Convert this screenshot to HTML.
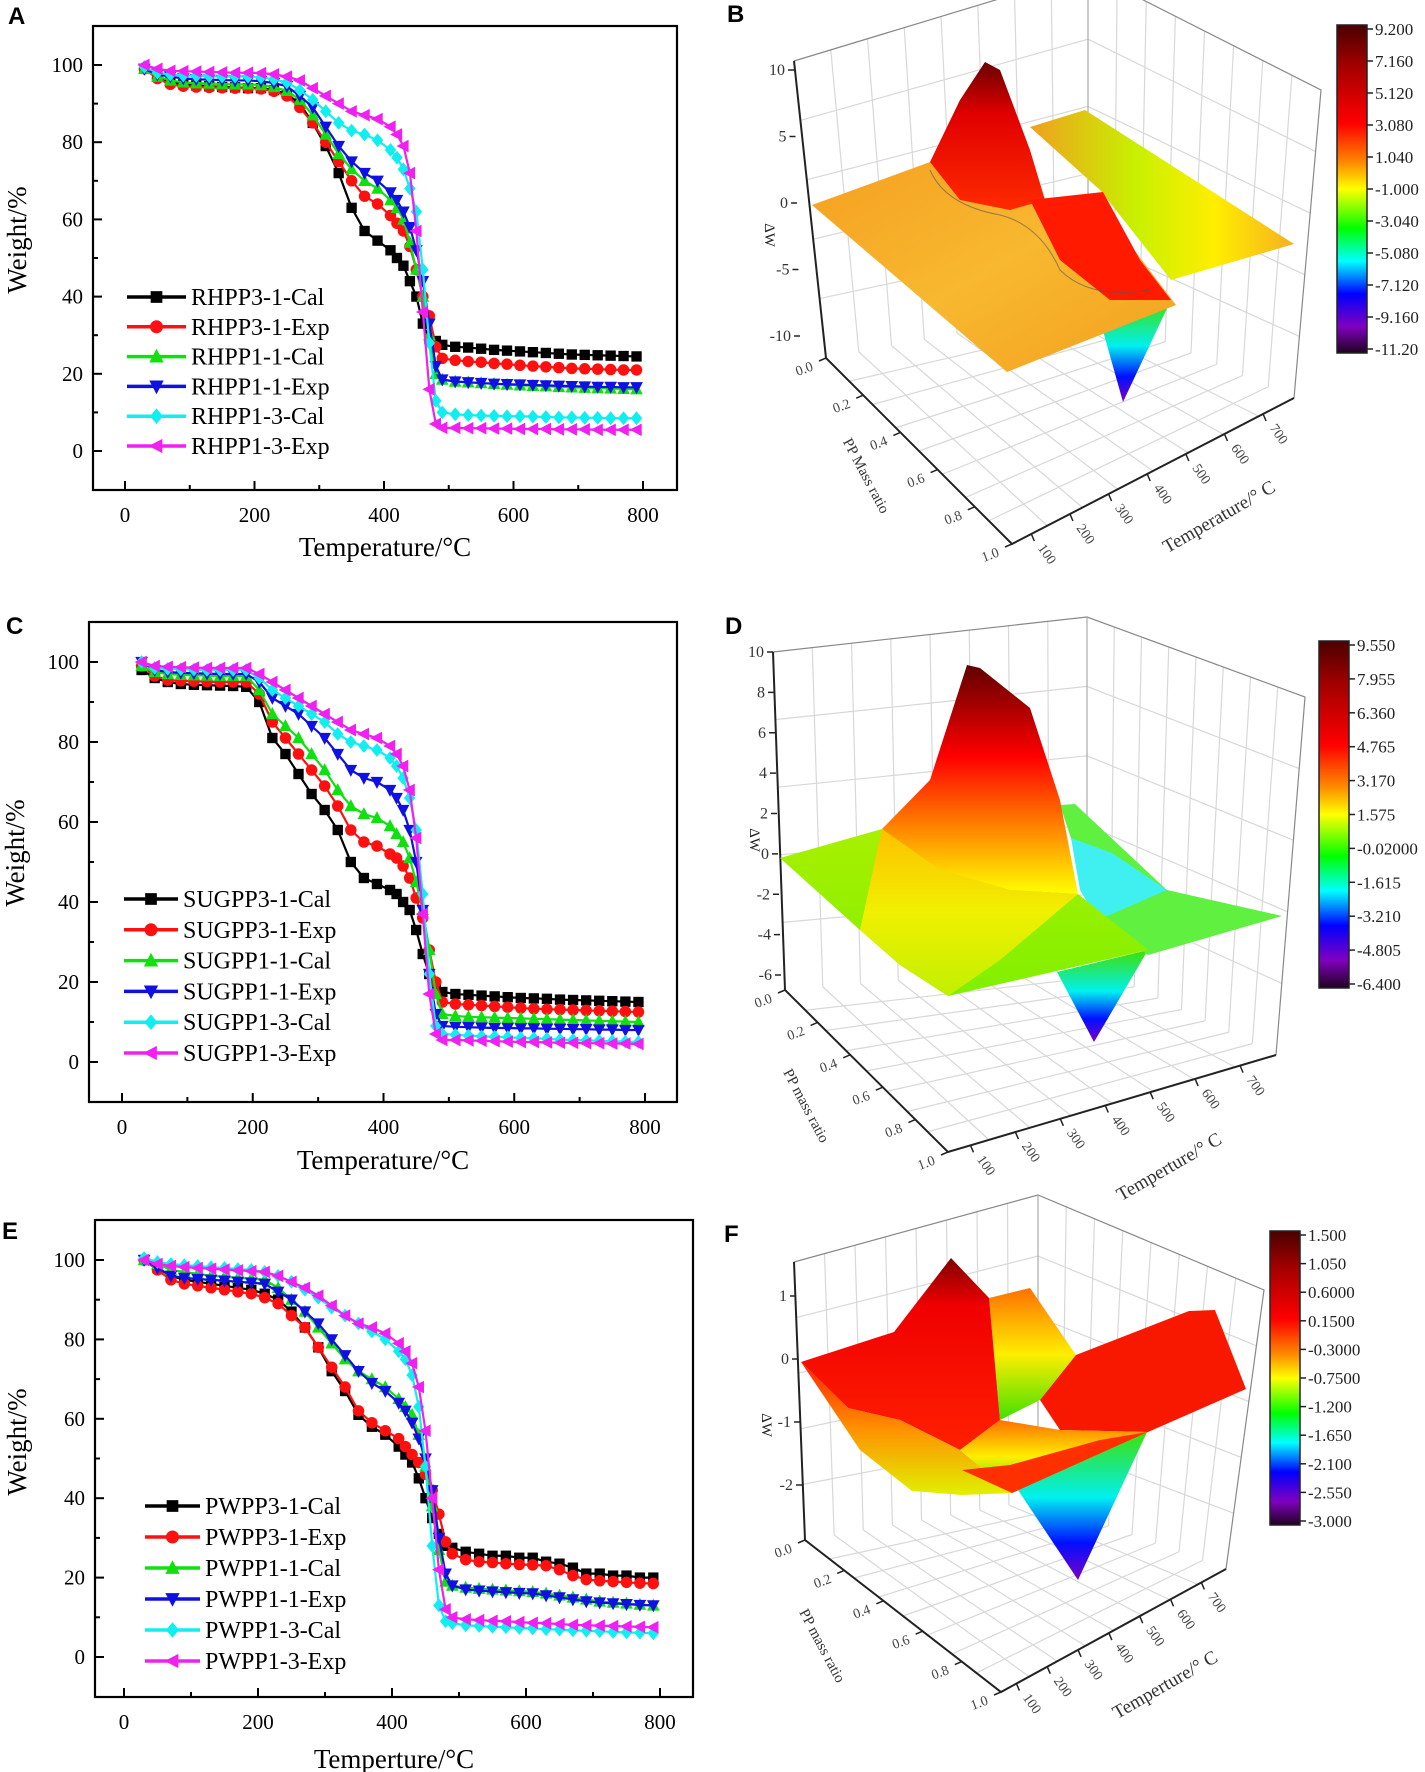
<!DOCTYPE html>
<html><head><meta charset="utf-8"><style>
html,body{margin:0;padding:0;background:#fff;}
svg{display:block;}
text{font-family:"Liberation Serif",serif;}
.lbl{font-family:"Liberation Sans",sans-serif;font-weight:bold;font-size:24px;}
</style></head><body>
<svg id="fig" xmlns="http://www.w3.org/2000/svg" width="1425" height="1772" viewBox="0 0 1425 1772">
<defs>
<linearGradient id="cbar" x1="0" y1="0" x2="0" y2="1">
<stop offset="0" stop-color="#4a0000"/><stop offset="0.12" stop-color="#a00000"/><stop offset="0.3" stop-color="#ff0000"/><stop offset="0.42" stop-color="#ff8a00"/><stop offset="0.5" stop-color="#ffff00"/><stop offset="0.62" stop-color="#00ff00"/><stop offset="0.72" stop-color="#00ffff"/><stop offset="0.82" stop-color="#0000ff"/><stop offset="0.92" stop-color="#8000c0"/><stop offset="1" stop-color="#200020"/>
</linearGradient>
<linearGradient id="gPeak" x1="0" y1="0" x2="0" y2="1"><stop offset="0" stop-color="#6a0000"/><stop offset="0.35" stop-color="#e00000"/><stop offset="1" stop-color="#ff2a00"/></linearGradient>
<linearGradient id="gOrange" x1="0" y1="0" x2="1" y2="1"><stop offset="0" stop-color="#f5a020"/><stop offset="0.5" stop-color="#f8b830"/><stop offset="1" stop-color="#f3a01e"/></linearGradient>
<linearGradient id="gRib" x1="0" y1="0" x2="1" y2="0"><stop offset="0" stop-color="#f0a020"/><stop offset="0.4" stop-color="#c8f000"/><stop offset="0.7" stop-color="#ffee00"/><stop offset="1" stop-color="#f5b020"/></linearGradient>
<linearGradient id="gTri" x1="0" y1="0" x2="0" y2="1"><stop offset="0" stop-color="#40e000"/><stop offset="0.45" stop-color="#00f0f0"/><stop offset="0.75" stop-color="#0010ff"/><stop offset="1" stop-color="#7a00c8"/></linearGradient>
<linearGradient id="gDPeak" x1="0" y1="0" x2="0" y2="1"><stop offset="0" stop-color="#600000"/><stop offset="0.4" stop-color="#ff0000"/><stop offset="0.7" stop-color="#ff8000"/><stop offset="1" stop-color="#ffff00"/></linearGradient>
<linearGradient id="gDPlane" x1="0" y1="0" x2="0" y2="1"><stop offset="0" stop-color="#a8f000"/><stop offset="1" stop-color="#80f000"/></linearGradient>
<linearGradient id="gDYel" x1="0" y1="0" x2="0" y2="1"><stop offset="0" stop-color="#ffc000"/><stop offset="0.5" stop-color="#f0f000"/><stop offset="1" stop-color="#c0f000"/></linearGradient>
<linearGradient id="gFRed" x1="0" y1="0" x2="0" y2="1"><stop offset="0" stop-color="#800000"/><stop offset="0.25" stop-color="#f00000"/><stop offset="1" stop-color="#ff2000"/></linearGradient>
<linearGradient id="gFValley" x1="0" y1="0" x2="0" y2="1"><stop offset="0" stop-color="#ff2000"/><stop offset="0.5" stop-color="#ff9000"/><stop offset="1" stop-color="#e0f000"/></linearGradient>
<linearGradient id="gFMid" x1="0" y1="0" x2="0" y2="1"><stop offset="0" stop-color="#ff7000"/><stop offset="0.5" stop-color="#ffee00"/><stop offset="1" stop-color="#40e000"/></linearGradient>
</defs>
</svg>
<script>
// ---------- shared temperature categories (°C) ----------
const T=[30,50,70,90,110,130,150,170,190,210,230,250,270,290,310,330,350,370,390,410,420,430,440,450,460,470,480,490,510,530,550,570,590,610,630,650,670,690,710,730,750,770,790];
const xTicks=[0,200,400,600,800];
const yTicks=[0,20,40,60,80,100];
// ---------- Panel A ----------
const rhpp31Cal=[99,97,95.5,95,94.7,94.5,94.3,94.2,94,94,93.5,92.5,90,85,79,72,63,57,54.5,52,50,48,44,40,33,29,28.5,27.5,27,26.8,26.5,26.2,26,25.8,25.6,25.4,25.2,25,24.9,24.8,24.7,24.6,24.5];
const rhpp31Exp=[99,96.5,95,94.5,94.3,94.2,94.1,94,94,93.8,93.2,92,89,85,80,75,70,66,64,61,59,57,53,47,40,35,27,24,23.5,23.2,23,22.7,22.5,22.2,22,21.8,21.6,21.4,21.3,21.2,21.1,21,21];
const rhpp11Cal=[99,97,96,95.5,95.3,95.2,95.1,95,95,94.8,94.3,93.3,91,87,82,77,73,70,68,65,63,60,54,47,40,30,20,18.5,18,17.8,17.6,17.4,17.2,17,16.9,16.8,16.6,16.5,16.4,16.3,16.2,16.1,16];
const rhpp11Exp=[99,97.5,97,96.5,96.3,96.2,96.1,96,96,95.8,95.3,94.5,92,89,84,79,75,72,70,67,65,62,58,52,44,33,22,18.5,18,17.8,17.6,17.4,17.3,17.2,17.1,17,16.9,16.8,16.7,16.6,16.6,16.5,16.5];
const rhpp13Cal=[99.5,98,97.5,97.3,97.2,97.1,97,97,97,96.8,96.3,95.5,93.5,91,88,85,83,82,80.5,78,76,73,68,62,47,28,13,10,9.5,9.3,9.2,9.1,9,9,8.9,8.8,8.7,8.7,8.6,8.6,8.5,8.5,8.5];
const rhpp13Exp=[100,99,98.5,98.4,98.3,98.2,98.1,98,98,97.9,97.6,97,96,94,92,90,88,87,86,84,82,79,72,57,36,16,7,6,6,5.9,5.9,5.8,5.8,5.7,5.7,5.7,5.6,5.6,5.6,5.5,5.5,5.5,5.5];
// ---------- Panel C ----------
const sug31Cal=[98,96,95,94.5,94.3,94.2,94.1,94,93.8,90,81,77,72,67,63,58,50,46,44.5,43,42,40,38,33,27,22,19,17.5,17,16.8,16.6,16.4,16.2,16,15.9,15.8,15.6,15.5,15.4,15.3,15.2,15.1,15];
const sug31Exp=[99,96.5,95.5,95.3,95.2,95.1,95,95,95,92,85,81,77,73,69,64,58,55,54,52,51,49,46,41,36,28,20,15,14.5,14.3,14.1,13.9,13.7,13.5,13.3,13.2,13.1,13,12.9,12.8,12.7,12.6,12.5];
const sug11Cal=[99,97.5,97,96.8,96.7,96.6,96.5,96.5,96.5,93,87,84,81,77,73,68,64,62,61,59,57,55,51,45,38,28,17,12,11.5,11.3,11.2,11.1,11,10.9,10.8,10.7,10.6,10.5,10.4,10.3,10.2,10.1,10];
const sug11Exp=[100,98,97.5,97.3,97.2,97.1,97,97,97,95,91,89,87,84,81,77,73,71,70,68,66,63,58,50,38,22,12,9,8.8,8.7,8.6,8.5,8.5,8.4,8.4,8.3,8.3,8.2,8.2,8.1,8.1,8,8];
const sug13Cal=[100,98.5,98.3,98.2,98.1,98,98,98,98,96,93,91,89,87,85,82,80,79,78,76,74,71,66,58,42,22,9,7,6.8,6.6,6.4,6.3,6.2,6,5.9,5.8,5.6,5.5,5.4,5.3,5.2,5.1,5];
const sug13Exp=[100,99,98.8,98.7,98.6,98.5,98.5,98.5,98.5,97,95,93,91,89,87,85,83,82,81,79,77,74,68,56,37,17,7,5.5,5.5,5.4,5.3,5.2,5.1,5,5,4.9,4.8,4.8,4.7,4.7,4.6,4.6,4.5];
// ---------- Panel E ----------
const pw31Cal=[100,98,96,95,94.5,94,93.5,93,92.5,91.5,90,87,83,78,72,67,61,58,56,53,51,49,45,40,35,31,28,27.5,26.5,26,25.5,25.5,25,25,24,23.5,22.5,21,21,20.5,20.5,20,20];
const pw31Exp=[100,97.5,95,94,93.5,93,92.5,92,91.5,90.5,89,86,83,78,73,68,62,59,57,55,53,51,49,46,42,36,29,26,24.5,24,23.8,23.5,23.3,23.2,23,22,20.5,19.5,19.2,19,18.8,18.6,18.5];
const pw11Cal=[100,99,97.5,97,96.5,96,95.8,95.5,95.3,95,93,90,87,83,79,75,72,70,68,65,63,61,56,48,38,27,19,18,17.5,17.2,17,16.8,16.6,16.4,16,15.5,15,14.5,14,13.7,13.5,13.2,13];
const pw11Exp=[100,98,96,95.5,95.2,95,94.8,94.5,94.3,94,92,90,87,84,80,76,72,69,67,64,62,59,55,50,42,30,21,18,17,16.7,16.5,16.3,16.1,16,15.5,15,14.5,14,13.7,13.5,13.3,13.1,13];
const pw13Cal=[100.5,99.5,99,98.7,98.5,98.2,98,97.7,97.5,97,96,94.5,92.5,90.5,88,86,84,82,80,77,75,71,63,48,28,13,9,8.5,8,7.8,7.6,7.5,7.3,7.2,7,6.9,6.7,6.6,6.5,6.3,6.2,6.1,6];
const pw13Exp=[100,99,98.5,98.2,98,97.8,97.6,97.4,97.2,97,96,94.5,93,91,88.5,86,84,83,81.5,79,77,74,68,57,40,22,12,10,9.5,9.3,9.1,9,8.8,8.6,8.5,8.3,8.1,8,7.9,7.8,7.7,7.6,7.5];
// ---------- colour-bar tick labels ----------
const cbB=["9.200","7.160","5.120","3.080","1.040","-1.000","-3.040","-5.080","-7.120","-9.160","-11.20"];
const cbD=["9.550","7.955","6.360","4.765","3.170","1.575","-0.02000","-1.615","-3.210","-4.805","-6.400"];
const cbF=["1.500","1.050","0.6000","0.1500","-0.3000","-0.7500","-1.200","-1.650","-2.100","-2.550","-3.000"];

const NS="http://www.w3.org/2000/svg";
const svg=document.getElementById('fig');
function el(tag,attrs,parent,txt){const e=document.createElementNS(NS,tag);for(const k in attrs)e.setAttribute(k,attrs[k]);if(txt!==undefined)e.textContent=txt;(parent||svg).appendChild(e);return e;}

const COLORS=["#000000","#ff1010","#10e010","#1010e0","#10eef0","#f020f0"];
const SHAPES=["square","circle","up","down","diamond","left"];
function marker(g,shape,x,y,c,s){
  let m;
  if(shape==="square")m=el('rect',{x:x-s*0.45,y:y-s*0.45,width:s*0.9,height:s*0.9,fill:c},g);
  else if(shape==="circle")m=el('circle',{cx:x,cy:y,r:s*0.5,fill:c},g);
  else{
    let p;
    if(shape==="up")p=[[x,y-s*0.6],[x-s*0.55,y+s*0.45],[x+s*0.55,y+s*0.45]];
    else if(shape==="down")p=[[x,y+s*0.6],[x-s*0.55,y-s*0.45],[x+s*0.55,y-s*0.45]];
    else if(shape==="diamond")p=[[x,y-s*0.6],[x+s*0.5,y],[x,y+s*0.6],[x-s*0.5,y]];
    else p=[[x-s*0.6,y],[x+s*0.45,y-s*0.55],[x+s*0.45,y+s*0.55]];
    m=el('polygon',{points:p.map(q=>q.join(',')).join(' '),fill:c},g);
  }
  return m;
}

function linePanel(cfg){
  const g=el('g',{});
  
  
  const X=v=>cfg.x0+(v/800)*(cfg.x800-cfg.x0);
  const Y=v=>cfg.y0-(v/100)*(cfg.y0-cfg.y100);
  const L=el('text',{x:cfg.lx,y:cfg.ly,class:'lbl'},g,cfg.letter);
  
  
  const fr=el('rect',{x:cfg.fx0,y:cfg.fy0,width:cfg.fx1-cfg.fx0,height:cfg.fy1-cfg.fy0,fill:'none',stroke:'#000','stroke-width':2.2},g);
  
  
  for(let v=0;v<=800;v+=100){
    const major=v%200===0;
    el('line',{x1:X(v),x2:X(v),y1:cfg.fy1,y2:cfg.fy1-(major?9:5),stroke:'#000','stroke-width':2},g);
  }
  xTicks.forEach(v=>{
    const t=el('text',{x:X(v),y:cfg.fy1+32,'font-size':21,'text-anchor':'middle'},g,String(v));
    
    
  });
  for(let v=0;v<=100;v+=10){
    const major=v%20===0;
    el('line',{x1:cfg.fx0,x2:cfg.fx0+(major?9:5),y1:Y(v),y2:Y(v),stroke:'#000','stroke-width':2},g);
  }
  yTicks.forEach(v=>{
    const t=el('text',{x:cfg.fx0-10,y:Y(v)+7,'font-size':21,'text-anchor':'end'},g,String(v));
    
    
  });
  const xt=el('text',{x:(cfg.fx0+cfg.fx1)/2,y:cfg.xty,'font-size':27,'text-anchor':'middle'},g,cfg.xtitle);
  
  
  const yt=el('text',{x:0,y:0,'font-size':27,'text-anchor':'middle',transform:`translate(${cfg.ytx},${cfg.yty}) rotate(-90)`},g,'Weight/%');
  
  
  cfg.series.forEach((arr,i)=>{
    const sg=el('g',{},g);
    
    
    const pts=T.map((t,k)=>X(t)+','+Y(arr[k])).join(' ');
    const pl=el('polyline',{points:pts,fill:'none',stroke:COLORS[i],'stroke-width':2.2},sg);
    
    
    T.forEach((t,k)=>{
      const m=marker(sg,SHAPES[i],X(t),Y(arr[k]),COLORS[i],11.5);
      
      
    });
  });
  const lg=el('g',{},g);
  
  
  cfg.labels.forEach((lab,i)=>{
    const y=cfg.legY+i*cfg.legStep;
    const eg=el('g',{},lg);
    
    
    el('line',{x1:cfg.legX0,x2:cfg.legX1,y1:y,y2:y,stroke:COLORS[i],'stroke-width':3.5},eg);
    marker(eg,SHAPES[i],(cfg.legX0+cfg.legX1)/2,y,COLORS[i],13);
    el('text',{x:cfg.legX1+5,y:y+8,'font-size':24},eg,lab);
  });
}

linePanel({name:'chart-a',letter:'A',lx:8,ly:24,fx0:93,fx1:677,fy0:26,fy1:490,x0:125,x800:643,y0:451,y100:65,
  xtitle:'Temperature/°C',xty:556,ytx:26,yty:240,
  series:[rhpp31Cal,rhpp31Exp,rhpp11Cal,rhpp11Exp,rhpp13Cal,rhpp13Exp],
  labels:['RHPP3-1-Cal','RHPP3-1-Exp','RHPP1-1-Cal','RHPP1-1-Exp','RHPP1-3-Cal','RHPP1-3-Exp'],
  legY:297,legStep:29.8,legX0:127,legX1:186});
linePanel({name:'chart-c',letter:'C',lx:6,ly:634,fx0:89,fx1:677,fy0:622,fy1:1102,x0:122,x800:645,y0:1062,y100:662,
  xtitle:'Temperature/°C',xty:1169,ytx:24,yty:853,
  series:[sug31Cal,sug31Exp,sug11Cal,sug11Exp,sug13Cal,sug13Exp],
  labels:['SUGPP3-1-Cal','SUGPP3-1-Exp','SUGPP1-1-Cal','SUGPP1-1-Exp','SUGPP1-3-Cal','SUGPP1-3-Exp'],
  legY:899,legStep:30.8,legX0:124,legX1:178});
linePanel({name:'chart-e',letter:'E',lx:2,ly:1239,fx0:95,fx1:693,fy0:1220,fy1:1697,x0:124,x800:660,y0:1657,y100:1260,
  xtitle:'Temperture/°C',xty:1768,ytx:26,yty:1442,
  series:[pw31Cal,pw31Exp,pw11Cal,pw11Exp,pw13Cal,pw13Exp],
  labels:['PWPP3-1-Cal','PWPP3-1-Exp','PWPP1-1-Cal','PWPP1-1-Exp','PWPP1-3-Cal','PWPP1-3-Exp'],
  legY:1506,legStep:31,legX0:145,legX1:200});

// ---------- 3D panels (illustrative surfaces) ----------
function lerp(a,b,t){return [a[0]+(b[0]-a[0])*t,a[1]+(b[1]-a[1])*t];}
function box3d(g,b){
  const gs={stroke:'#d8d8d8','stroke-width':1.2};
  for(let i=1;i<8;i++){const t=i/8;
    const p=lerp(b.L,b.Bk,t),q=lerp(b.Lt,b.Bkt,t);el('line',{x1:p[0],y1:p[1],x2:q[0],y2:q[1],...gs},g);
    const r=lerp(b.Bk,b.R,t),s=lerp(b.Bkt,b.Rt,t);el('line',{x1:r[0],y1:r[1],x2:s[0],y2:s[1],...gs},g);
    const a1=lerp(b.L,b.F,t),a2=lerp(b.Bk,b.R,t);el('line',{x1:a1[0],y1:a1[1],x2:a2[0],y2:a2[1],...gs},g);
    const c1=lerp(b.F,b.R,t),c2=lerp(b.L,b.Bk,t);el('line',{x1:c1[0],y1:c1[1],x2:c2[0],y2:c2[1],...gs},g);
  }
  for(let i=1;i<5;i++){const t=i/5;
    const p=lerp(b.L,b.Lt,t),q=lerp(b.Bk,b.Bkt,t),r=lerp(b.R,b.Rt,t);
    el('polyline',{points:[p,q,r].map(z=>z.join(',')).join(' '),fill:'none',...gs},g);}
  el('polyline',{points:[b.Lt,b.Bkt,b.Rt,b.R].map(z=>z.join(',')).join(' '),fill:'none',stroke:'#888','stroke-width':1.2},g);
  el('line',{x1:b.Bk[0],y1:b.Bk[1],x2:b.Bkt[0],y2:b.Bkt[1],stroke:'#aaa','stroke-width':1.2},g);
  el('polyline',{points:[b.Lt,b.L,b.F,b.R].map(z=>z.join(',')).join(' '),fill:'none',stroke:'#222','stroke-width':2},g);
  const ts={'font-size':14,fill:'#444'};
  ['0.0','0.2','0.4','0.6','0.8','1.0'].forEach((s,i)=>{const p=lerp(b.L,b.F,i/5);
    el('line',{x1:p[0],y1:p[1],x2:p[0]-7,y2:p[1]+3,stroke:'#222','stroke-width':1.5},g);
    el('text',{x:p[0]-12,y:p[1]+12,'text-anchor':'end',...ts,transform:`rotate(-20 ${p[0]-12} ${p[1]+12})`},g,s);});
  ['100','200','300','400','500','600','700'].forEach((s,i)=>{const p=lerp(b.F,b.R,(i+0.5)/7.3);
    el('line',{x1:p[0],y1:p[1],x2:p[0]+3,y2:p[1]+7,stroke:'#222','stroke-width':1.5},g);
    el('text',{x:p[0]+6,y:p[1]+14,...ts,transform:`rotate(55 ${p[0]+6} ${p[1]+14})`},g,s);});
  b.zt.forEach((s,i)=>{const p=lerp(b.Zlo,b.Zhi,i/(b.zt.length-1));
    el('line',{x1:p[0],y1:p[1],x2:p[0]-6,y2:p[1],stroke:'#222','stroke-width':1.5},g);
    el('text',{x:p[0]-9,y:p[1]+5,'text-anchor':'end','font-size':16,fill:'#333'},g,s);});
  el('text',{x:0,y:0,'font-size':15,fill:'#333','text-anchor':'middle',transform:`translate(${b.ppT[0]},${b.ppT[1]}) rotate(62)`},g,b.ppLabel);
  el('text',{x:0,y:0,'font-size':19,fill:'#333','text-anchor':'middle',transform:`translate(${b.tT[0]},${b.tT[1]}) rotate(-30)`},g,b.tLabel);
  el('text',{x:0,y:0,'font-size':15,fill:'#222','text-anchor':'middle',transform:`translate(${b.zT[0]},${b.zT[1]}) rotate(90)`},g,'ΔW');
}
function poly(g,pts,fill,name){const p=el('polygon',{points:pts.map(z=>z.join(',')).join(' '),fill:fill},g);return p;}
function cbar(g,x,y0,y1,labels,name){
  const cg=el('g',{},g);
  
  
  el('rect',{x:x,y:y0,width:30,height:y1-y0,fill:'url(#cbar)',stroke:'#222','stroke-width':1.5},cg);
  labels.forEach((s,i)=>{const y=y0+4+(y1-y0-8)*i/(labels.length-1);
    el('line',{x1:x+30,x2:x+36,y1:y,y2:y,stroke:'#222','stroke-width':1.5},cg);
    el('text',{x:x+38,y:y+6,'font-size':17,fill:'#222'},cg,s);});
}
// Panel B
(function(){
  const g=el('g',{});
  const L=el('text',{x:727,y:22,class:'lbl'},g,'B');
  box3d(g,{L:[826,358],Lt:[794,61],Bk:[1088,308],Bkt:[1088,-28],R:[1294,398],Rt:[1321,90],F:[1012,544],
    Zlo:[800,336],Zhi:[794,70],zt:['-10','-5','0','5','10'],ppLabel:'PP Mass ratio',ppT:[862,478],tLabel:'Temperature/° C',tT:[1222,522],zT:[765,235]});
  poly(g,[[1030,127],[1085,110],[1294,244],[1171,280],[1100,190]],'url(#gRib)','surface-ribbon');
  poly(g,[[1103,331],[1171,300],[1123,402]],'url(#gTri)','surface-trough');
  poly(g,[[812,205],[930,162],[1020,200],[1100,205],[1176,305],[1007,372]],'url(#gOrange)','surface-plane');
  poly(g,[[930,162],[960,100],[985,62],[1000,70],[1030,150],[1045,200],[1010,210],[960,200]],'url(#gPeak)','surface-peak');
  poly(g,[[1030,200],[1103,192],[1140,260],[1171,300],[1110,300],[1060,260]],'#ff1a00','surface-fold');
  el('path',{d:'M930,170 Q945,205 1000,215 Q1040,225 1060,270 Q1090,300 1150,290',fill:'none',stroke:'#555','stroke-width':1,opacity:0.6},g);
  cbar(g,1337,25,353,cbB,'colorbar-b');
})();
// Panel D
(function(){
  const g=el('g',{});
  const L=el('text',{x:725,y:634,class:'lbl'},g,'D');
  box3d(g,{L:[785,990],Lt:[773,652],Bk:[1087,964],Bkt:[1087,617],R:[1276,1055],Rt:[1305,697],F:[948,1152],
    Zlo:[781,975],Zhi:[773,652],zt:['-6','-4','-2','0','2','4','6','8','10'],ppLabel:'PP mass ratio',ppT:[802,1108],tLabel:'Temperture/° C',tT:[1172,1172],zT:[750,840]});
  poly(g,[[1057,972],[1148,950],[1094,1042]],'url(#gTri)','surface-trough');
  poly(g,[[1060,805],[1075,804],[1167,890],[1282,916],[1148,955],[1098,920]],'#60f040','surface-back-plane');
  poly(g,[[1071,838],[1112,853],[1167,890],[1098,920],[1080,890]],'#40f0f0','surface-cyan');
  poly(g,[[780,858],[882,829],[1020,880],[1078,894],[1148,950],[948,996],[900,965],[860,930]],'url(#gDPlane)','surface-plane');
  poly(g,[[882,829],[930,780],[967,665],[980,668],[1030,708],[1060,800],[1078,894],[1010,890],[940,870]],'url(#gDPeak)','surface-peak');
  poly(g,[[882,829],[940,870],[1010,890],[1078,894],[1000,960],[948,996],[900,965],[860,930]],'url(#gDYel)','surface-slope');
  cbar(g,1319,641,988,cbD,'colorbar-d');
})();
// Panel F
(function(){
  const g=el('g',{});
  const L=el('text',{x:724,y:1242,class:'lbl'},g,'F');
  box3d(g,{L:[805,1540],Lt:[794,1262],Bk:[1038,1500],Bkt:[1038,1195],R:[1226,1569],Rt:[1264,1290],F:[1001,1692],
    Zlo:[802,1485],Zhi:[796,1296],zt:['-2','-1','0','1'],ppLabel:'PP mass ratio',ppT:[818,1648],tLabel:'Temperture/° C',tT:[1168,1690],zT:[762,1425]});
  poly(g,[[1014,1484],[1148,1430],[1078,1580]],'url(#gTri)','surface-trough');
  poly(g,[[989,1298],[1030,1288],[1076,1355],[1040,1400],[1000,1420]],'url(#gFMid)','surface-back-fold');
  poly(g,[[1076,1355],[1189,1311],[1215,1310],[1246,1389],[1148,1432],[1060,1430],[1040,1400]],'#f81800','surface-right-plane');
  poly(g,[[801,1362],[894,1332],[951,1258],[989,1298],[1000,1420],[960,1450],[900,1420],[848,1408]],'url(#gFRed)','surface-peak');
  poly(g,[[801,1362],[848,1408],[900,1420],[960,1450],[1012,1493],[962,1495],[912,1491],[860,1450]],'url(#gFValley)','surface-valley');
  poly(g,[[1000,1420],[1060,1430],[1148,1432],[1012,1493],[960,1450]],'url(#gFMid)','surface-mid');
  poly(g,[[962,1470],[1012,1493],[1148,1432],[1100,1440],[1010,1465]],'#ff3000','surface-front-edge');
  cbar(g,1270,1231,1525,cbF,'colorbar-f');
})();
</script>
</body></html>
